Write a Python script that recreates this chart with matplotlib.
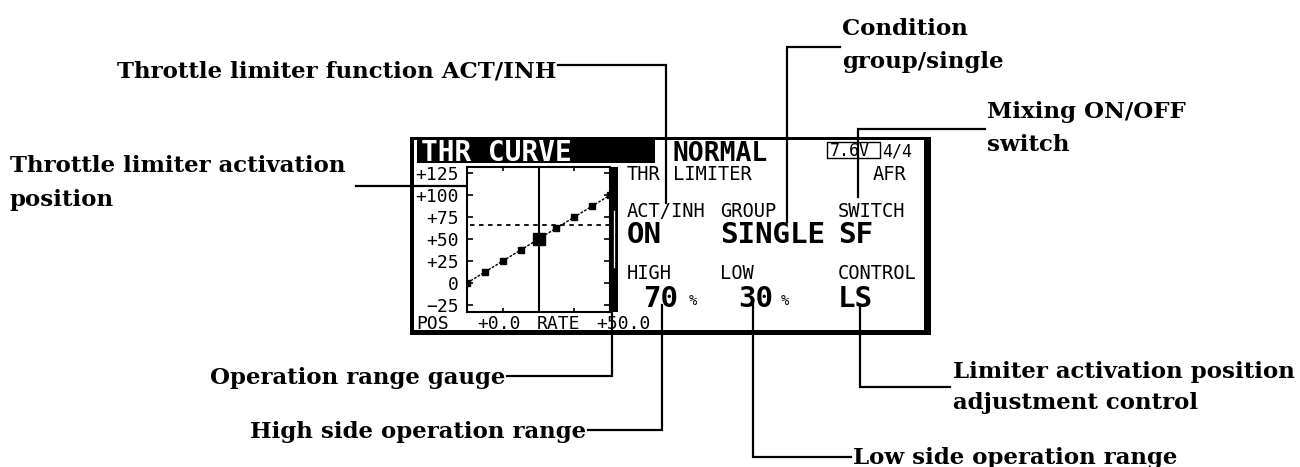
import matplotlib.pyplot as plt
from matplotlib.patches import Rectangle

# canvas in pixels
W, H = 1300, 467

# throttle curve (stick position -> output %)
curve_x = [-100, -75, -50, -25, 0, 25, 50, 75, 100]
curve_y = [0, 12.5, 25, 37.5, 50, 62.5, 75, 87.5, 100]
limiter_pos = 66          # dashed line = limiter activation position
gauge_low, gauge_high = 17, 83
yticks = [125, 100, 75, 50, 25, 0, -25]
ytick_labels = ["+125", "+100", "+75", "+50", "+25", "0", "\u221225"]

LCD = "DejaVu Sans Mono"
LBL = dict(family="DejaVu Serif", weight="bold", size=16.5)

fig = plt.figure(figsize=(13, 4.67), dpi=100)
ax = fig.add_axes([0, 0, 1, 1])
ax.set_xlim(0, W)
ax.set_ylim(H, 0)
ax.axis("off")

# ---------- LCD screen frame ----------
for x, y, w, h in [(410, 137, 521, 3), (410, 137, 4, 198),
                   (924, 137, 7, 198), (410, 330, 521, 5)]:
    ax.add_patch(Rectangle((x, y), w, h, fc="k", ec="none"))

# header
ax.add_patch(Rectangle((417, 139), 238, 24, fc="k", ec="none"))
ax.text(421, 161, "THR CURVE", color="white", family=LCD, weight="bold",
        size=20, va="baseline")
ax.text(673, 161, "NORMAL", family=LCD, weight="bold", size=19, va="baseline")
ax.add_patch(Rectangle((827, 142), 53, 16, fill=False, ec="k", lw=1))
ax.text(830, 156, "7.6V", family=LCD, size=12, va="baseline")
ax.text(882, 156, "4/4", family=LCD, size=12, va="baseline")

# ---------- curve graph ----------
g = fig.add_axes([467 / W, (H - 312) / H, (610 - 467) / W, (312 - 167) / H])
g.set_xlim(-100, 100)
g.set_ylim(-33, 132)
for s in g.spines.values():
    s.set_linewidth(1.5)
g.set_yticks(yticks)
g.set_yticklabels(ytick_labels, family=LCD, size=13)
g.set_xticks([-50, 50])
g.set_xticklabels([])
g.tick_params(axis="y", direction="in", length=4, width=1.2, pad=6,
              left=True, right=True)
g.tick_params(axis="x", direction="in", length=3, width=1.2,
              top=True, bottom=True)

g.axvline(0, color="k", lw=1.5)
g.plot([-96, 100], [limiter_pos, limiter_pos], color="k", lw=1.3,
       ls=(0, (2.5, 2.5)))
g.plot(curve_x, curve_y, color="k", lw=1, ls=(0, (2, 1)),
       marker="s", ms=4, mfc="k", mec="k")
g.plot([0], [50], marker="s", ms=9, color="k")

# operation range gauge at the right edge
g.add_patch(Rectangle((100, -33), 11.2, 165, fc="k", ec="none",
                      transform=g.transData, clip_on=False))
g.add_patch(Rectangle((104, gauge_low), 3.5, gauge_high - gauge_low,
                      fc="white", ec="k", lw=0.5,
                      transform=g.transData, clip_on=False))

# bottom row
for x, s in [(416, "POS"), (477, "+0.0"), (537, "RATE"), (596, "+50.0")]:
    ax.text(x, 329, s, family=LCD, size=13, va="baseline")

# ---------- right panel ----------
small = [(627, 180, "THR"), (673, 180, "LIMITER"), (873, 180, "AFR"),
         (627, 217, "ACT/INH"), (720, 217, "GROUP"), (838, 217, "SWITCH"),
         (627, 279, "HIGH"), (720, 279, "LOW"), (838, 279, "CONTROL")]
for x, y, s in small:
    ax.text(x, y, s, family=LCD, size=13.5, va="baseline")

big = [(627, 243, "ON"), (720, 243, "SINGLE"), (838, 243, "SF"),
       (643, 307, "70"), (738, 307, "30"), (838, 307, "LS")]
for x, y, s in big:
    ax.text(x, y, s, family=LCD, weight="bold", size=21, va="baseline")
for x in (689, 781):
    ax.text(x, 305, "%", family=LCD, size=10, va="baseline")

# ---------- callouts ----------
leaders = [
    ([558, 666, 666], [65, 65, 203]),
    ([840, 787, 787], [47, 47, 222]),
    ([985, 858, 858], [129, 129, 197]),
    ([356, 508, 508], [186, 186, 225]),
    ([507, 612, 612], [376, 376, 312]),
    ([588, 662, 662], [430, 430, 305]),
    ([851, 753, 753], [457, 457, 305]),
    ([950, 860, 860], [387, 387, 305]),
]
for xs, ys in leaders:
    ax.plot(xs, ys, color="k", lw=1.6, solid_joinstyle="miter")

ax.text(556, 77, "Throttle limiter function ACT/INH", ha="right", va="baseline", **LBL)
ax.text(842, 35, "Condition", va="baseline", **LBL)
ax.text(842, 68, "group/single", va="baseline", **LBL)
ax.text(987, 118, "Mixing ON/OFF", va="baseline", **LBL)
ax.text(987, 151, "switch", va="baseline", **LBL)
ax.text(10, 172, "Throttle limiter activation", va="baseline", **LBL)
ax.text(10, 206, "position", va="baseline", **LBL)
ax.text(505, 384, "Operation range gauge", ha="right", va="baseline", **LBL)
ax.text(586, 438, "High side operation range", ha="right", va="baseline", **LBL)
ax.text(853, 464, "Low side operation range", va="baseline", **LBL)
ax.text(953, 378, "Limiter activation position", va="baseline", **LBL)
ax.text(953, 409, "adjustment control", va="baseline", **LBL)

fig.savefig("out.png", dpi=100)
